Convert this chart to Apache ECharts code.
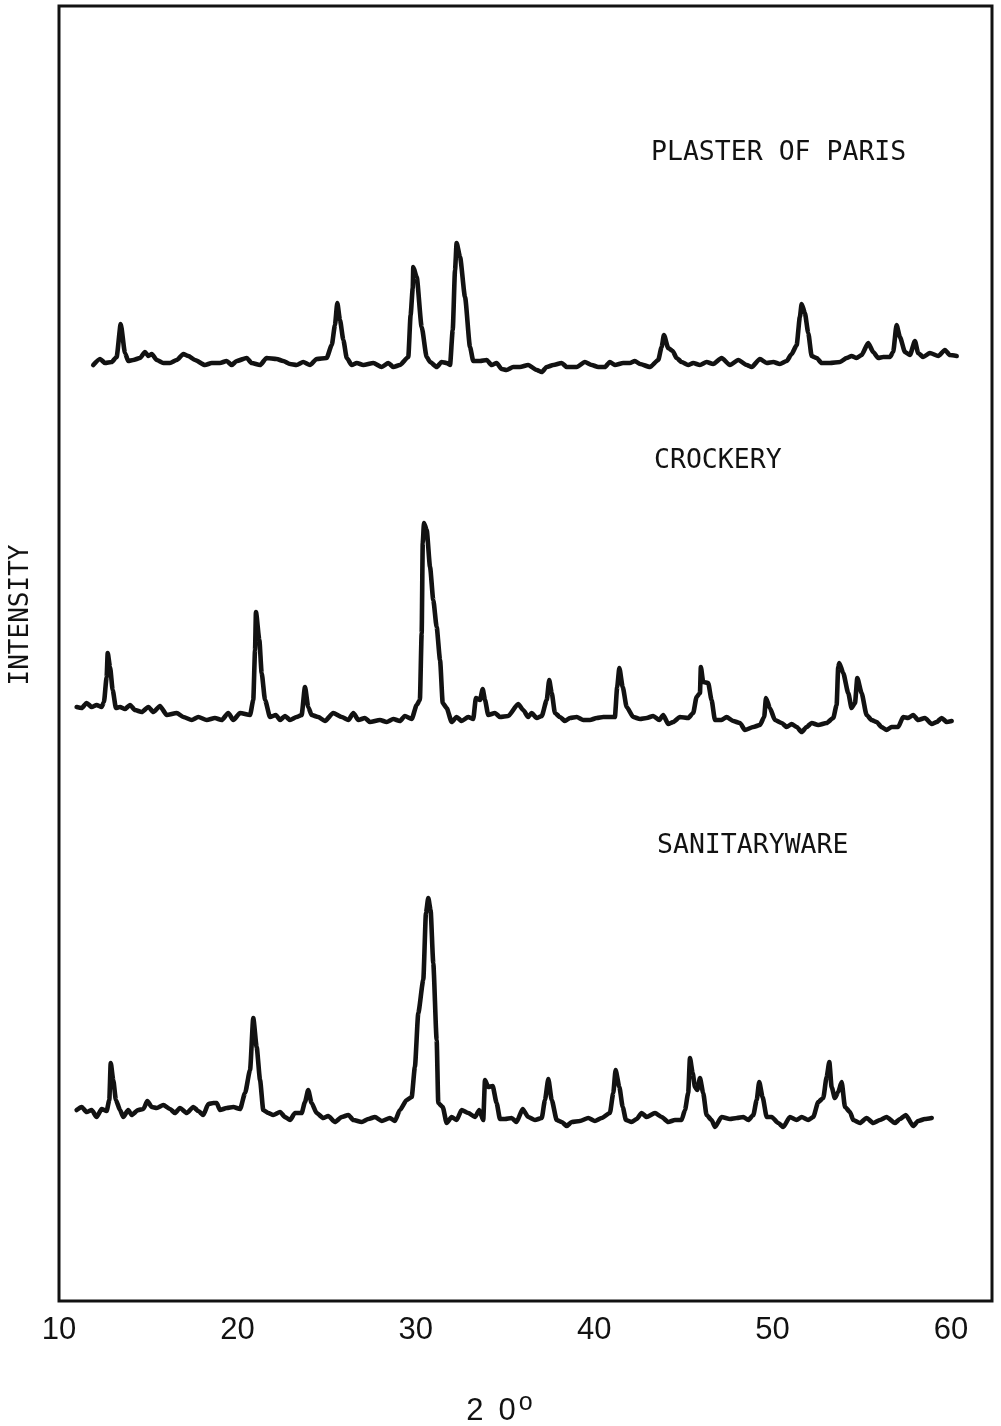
<!DOCTYPE html>
<html>
<head>
<meta charset="utf-8">
<script src="https://cdn.jsdelivr.net/npm/echarts@6/dist/echarts.min.js"></script>
<style>
html,body{margin:0;padding:0;background:#fff;}
#chart{width:1001px;height:1426px;}
</style>
</head>
<body>
<div id="chart"></div>
<script>
// 2-theta (degrees) and relative intensity
const plasterX = [11.92,12.30,12.58,12.95,13.23,13.46,13.70,13.88,14.16,14.54,14.82,15.01,15.20,15.48,15.85,16.22,16.60,16.97,17.25,17.62,18.18,18.56,19.02,19.40,19.68,19.96,20.52,20.80,21.27,21.64,22.20,22.57,22.95,23.32,23.69,24.07,24.44,25.00,25.29,25.47,25.60,25.75,25.94,26.13,26.41,26.69,27.06,27.62,28.09,28.46,28.74,29.11,29.58,29.71,29.83,29.86,30.05,30.33,30.61,30.80,31.17,31.45,31.73,31.92,32.07,32.20,32.29,32.48,32.76,33.04,33.22,33.60,33.97,34.25,34.53,34.81,35.09,35.46,35.84,36.30,36.78,37.06,37.34,37.71,38.18,38.46,39.02,39.48,39.86,40.23,40.60,40.88,41.16,41.63,42.00,42.28,42.57,43.13,43.59,43.78,43.91,44.15,44.40,44.62,44.90,45.27,45.55,45.93,46.30,46.67,47.14,47.61,48.08,48.55,48.83,49.29,49.67,50.04,50.41,50.79,51.07,51.35,51.53,51.63,51.81,52.00,52.19,52.47,52.75,53.21,53.78,54.15,54.43,54.71,54.99,55.36,55.64,55.92,56.20,56.58,56.76,56.95,57.14,57.42,57.70,57.98,58.16,58.44,58.82,59.29,59.66,59.94,60.32];
const plasterI = [10,16,12,13,18,51,22,14,15,17,23,19,21,15,12,12,15,21,19,15,10,12,12,14,10,14,17,12,10,17,16,14,11,10,13,10,16,17,30,50,72,55,35,17,10,12,10,12,8,12,8,10,18,60,87,108,98,48,18,13,8,13,12,10,45,105,132,118,78,28,14,14,15,10,12,6,5,8,8,10,5,3,8,10,12,8,8,13,10,8,8,13,10,12,12,14,11,8,15,28,40,27,24,17,13,10,12,10,13,11,17,10,15,10,8,16,12,13,11,14,21,30,58,71,62,42,19,17,12,12,13,17,19,17,20,32,23,17,18,18,23,50,38,23,20,34,22,18,22,19,25,20,19];

const crockeryX = [10.99,11.27,11.55,11.83,12.11,12.39,12.52,12.67,12.73,12.86,13.01,13.19,13.42,13.70,13.98,14.26,14.64,15.01,15.29,15.66,16.04,16.60,16.97,17.44,17.81,18.28,18.74,19.12,19.49,19.77,20.15,20.71,20.89,20.99,21.04,21.23,21.36,21.55,21.83,22.16,22.39,22.67,22.95,23.32,23.60,23.79,23.97,24.16,24.53,24.91,25.37,25.85,26.22,26.50,26.78,27.15,27.43,27.99,28.37,28.74,29.11,29.39,29.77,30.05,30.23,30.33,30.39,30.46,30.61,30.80,30.98,31.17,31.36,31.51,31.73,32.01,32.29,32.57,32.94,33.22,33.37,33.60,33.75,33.88,34.06,34.44,34.72,35.18,35.74,36.02,36.30,36.49,36.78,37.06,37.34,37.48,37.62,37.80,38.08,38.36,38.64,39.02,39.39,39.76,40.14,40.51,40.88,41.16,41.29,41.41,41.60,41.82,42.19,42.57,42.94,43.31,43.65,43.87,44.15,44.43,44.81,45.27,45.55,45.74,45.93,45.98,46.11,46.39,46.58,46.77,47.14,47.42,47.79,48.17,48.45,48.92,49.29,49.53,49.63,49.85,50.13,50.51,50.79,51.07,51.35,51.63,51.91,52.19,52.56,53.03,53.40,53.59,53.68,53.74,53.96,54.24,54.43,54.62,54.75,54.99,55.27,55.55,55.83,56.11,56.39,56.67,57.04,57.32,57.60,57.88,58.16,58.54,58.92,59.20,59.48,59.76,60.04];
const crockeryI = [28,27,32,28,30,28,33,58,82,68,45,27,28,26,30,25,23,28,23,29,20,22,18,15,18,15,17,15,22,15,22,20,35,85,123,95,62,35,18,20,15,19,15,18,20,48,28,20,18,14,22,18,15,22,15,17,13,15,13,16,14,19,16,30,35,102,192,212,205,168,135,108,75,32,27,13,18,14,18,16,37,35,46,35,20,22,18,19,31,25,18,22,17,19,35,55,42,22,18,14,17,18,15,15,17,18,18,18,48,67,48,28,18,16,17,19,15,20,11,13,18,17,22,38,42,68,53,52,35,15,15,18,14,12,5,8,10,18,37,27,15,12,8,11,8,3,8,12,10,12,17,30,68,72,62,42,27,32,57,42,20,15,13,8,5,8,8,18,17,20,15,17,11,13,17,13,14];

const sanitaryX = [10.99,11.27,11.55,11.83,12.11,12.39,12.67,12.82,12.90,13.04,13.19,13.42,13.60,13.88,14.07,14.44,14.73,14.95,15.20,15.48,15.85,16.22,16.50,16.78,17.16,17.53,17.81,18.09,18.37,18.65,18.84,19.02,19.40,19.77,20.15,20.43,20.71,20.89,21.08,21.27,21.45,21.73,22.01,22.39,22.67,22.95,23.23,23.60,23.79,23.97,24.16,24.44,24.81,25.09,25.47,25.85,26.22,26.50,26.97,27.34,27.71,28.09,28.55,28.83,29.11,29.49,29.77,29.95,30.14,30.42,30.57,30.70,30.83,30.98,31.17,31.26,31.51,31.73,32.01,32.29,32.57,32.94,33.32,33.56,33.78,33.88,34.06,34.31,34.53,34.72,35.00,35.37,35.65,35.99,36.30,36.68,37.06,37.24,37.43,37.62,37.90,38.18,38.46,38.74,39.20,39.67,40.04,40.42,40.88,41.07,41.20,41.41,41.60,41.78,42.10,42.38,42.66,42.94,43.41,43.78,44.15,44.53,44.90,45.09,45.27,45.37,45.52,45.65,45.78,45.93,46.11,46.30,46.58,46.77,47.14,47.61,47.99,48.36,48.64,48.92,49.11,49.25,49.44,49.67,49.95,50.32,50.60,50.97,51.35,51.63,52.00,52.28,52.56,52.84,53.03,53.18,53.31,53.49,53.68,53.87,54.06,54.34,54.52,54.90,55.27,55.64,56.02,56.39,56.86,57.14,57.47,57.88,58.16,58.54,58.92];
const sanitaryI = [25,28,23,25,18,26,24,35,72,55,35,25,18,25,20,25,26,34,28,27,30,26,22,27,22,28,24,20,31,32,32,25,27,28,26,42,65,117,88,55,25,22,20,23,18,15,22,22,33,45,32,22,17,19,13,18,20,15,13,16,18,14,17,14,25,35,38,68,122,155,222,237,225,172,95,32,28,12,18,15,25,22,18,25,15,55,48,49,32,16,16,17,13,26,18,15,17,35,56,35,15,13,9,13,14,17,14,17,22,42,65,48,28,15,13,16,22,18,22,18,13,15,15,25,42,77,62,48,45,57,42,20,15,8,18,16,17,18,15,20,35,53,38,18,18,12,8,18,15,18,15,18,33,37,58,73,48,37,43,53,28,23,15,12,17,12,15,18,12,16,20,9,14,16,17];

const xTickLabels = [10, 20, 30, 40, 50, 60];
const sampleNames = ['PLASTER OF PARIS', 'CROCKERY', 'SANITARYWARE'];
// vertical display offset of each stacked pattern (arbitrary intensity units)
const traceOffset = [926, 566, 166];

const traces = [[plasterX, plasterI], [crockeryX, crockeryI], [sanitaryX, sanitaryI]];
const INK = '#121212';
const monoFont = '"DejaVu Sans Mono", monospace';
const sansFont = '"Liberation Sans", Arial, sans-serif';

const chart = echarts.init(document.getElementById('chart'));
chart.setOption({
  backgroundColor: '#ffffff',
  animation: false,
  grid: {left: 59, right: 9, top: 6, bottom: 125, show: true, borderColor: INK, borderWidth: 3,
         backgroundColor: 'transparent', containLabel: false, outerBoundsMode: 'none'},
  xAxis: {
    type: 'value', min: 10, max: 62.3,
    axisLine: {show: false},
    axisTick: {show: false},
    splitLine: {show: false},
    axisLabel: {customValues: xTickLabels, color: INK, fontSize: 31, fontFamily: sansFont, margin: 14},
    name: '{a|2}{n|0}{s|o}',
    nameLocation: 'middle',
    nameGap: 90,
    nameTextStyle: {
      padding: [0, 52, 0, 0],
      rich: {
        a: {fontSize: 31, color: INK, fontFamily: sansFont},
        n: {fontSize: 31, color: INK, fontFamily: sansFont, padding: [0, 0, 0, 15]},
        s: {fontSize: 25, color: INK, fontFamily: sansFont, verticalAlign: 'top', padding: [0, 0, 16, 3]}
      }
    }
  },
  yAxis: {
    type: 'value', min: 0, max: 1295,
    axisLine: {show: false},
    axisTick: {show: false},
    axisLabel: {show: false},
    splitLine: {show: false}
  },
  series: traces.map((t, k) => ({
    type: 'line',
    name: sampleNames[k],
    showSymbol: false,
    smooth: 0.2,
    smoothMonotone: 'x',
    lineStyle: {color: INK, width: 4.6, join: 'round', cap: 'round'},
    data: t[0].map((x, i) => [x, t[1][i] + traceOffset[k]])
  })),
  graphic: [
    {type: 'text', left: 651, top: 140, style: {text: sampleNames[0], font: '26.5px ' + monoFont, fill: INK}},
    {type: 'text', left: 654, top: 448, style: {text: sampleNames[1], font: '26.5px ' + monoFont, fill: INK}},
    {type: 'text', left: 657, top: 833, style: {text: sampleNames[2], font: '26.5px ' + monoFont, fill: INK}},
    {type: 'text', x: 21, y: 615, rotation: Math.PI / 2,
     style: {text: 'INTENSITY', font: '26px ' + monoFont, fill: INK, align: 'center', verticalAlign: 'middle'}}
  ]
});
</script>
</body>
</html>
